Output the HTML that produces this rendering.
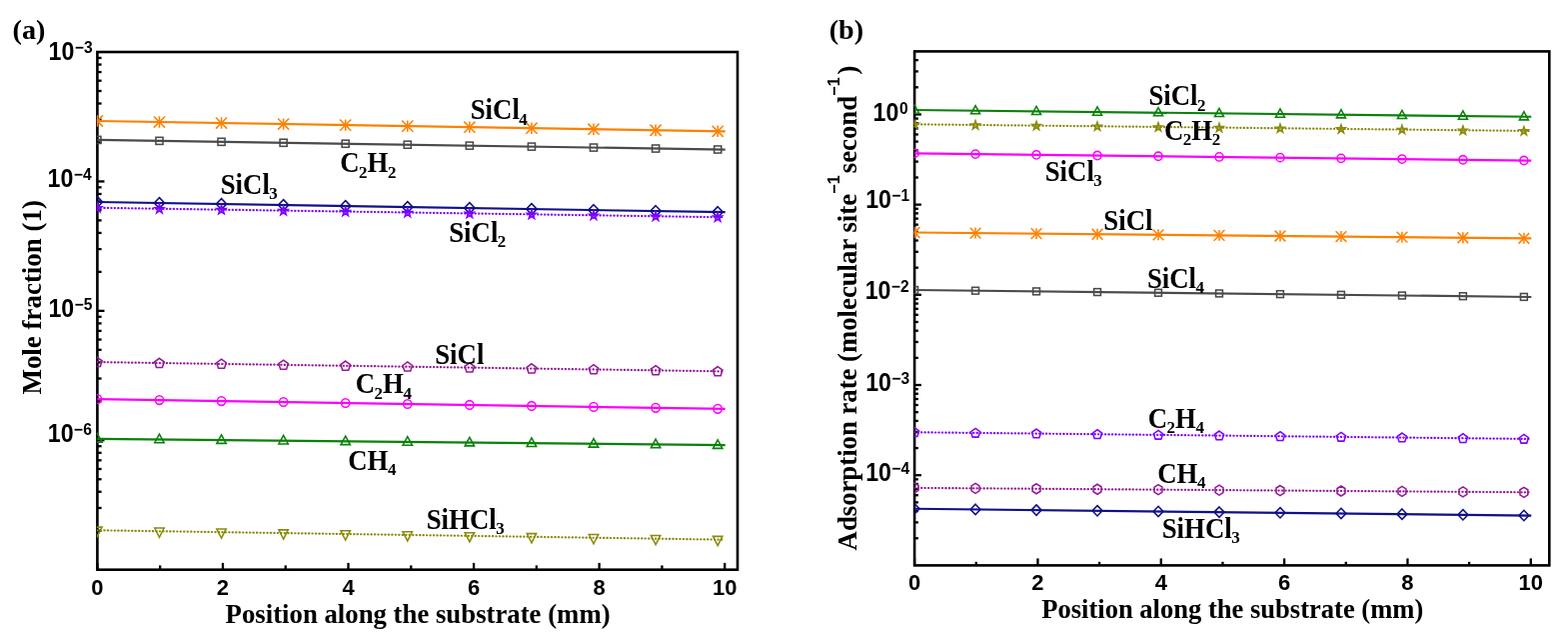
<!DOCTYPE html>
<html lang="en"><head><meta charset="utf-8"><title>Mole fraction and adsorption rate along the substrate</title>
<style>html,body{margin:0;padding:0;background:#fff;}body{width:1569px;height:640px;overflow:hidden;}svg{display:block;}text{fill:#000;}</style>
</head><body>
<svg width="1569" height="640" viewBox="0 0 1569 640">
<defs><filter id="soft" x="0" y="0" width="1569" height="640" filterUnits="userSpaceOnUse" color-interpolation-filters="sRGB"><feGaussianBlur stdDeviation="0.6"/></filter></defs>
<rect x="0" y="0" width="1569" height="640" fill="#ffffff"/>
<g filter="url(#soft)">
<g stroke="#000" stroke-width="2.3">
<line x1="97.4" y1="530.74" x2="101.6" y2="530.74"/>
<line x1="97.4" y1="507.95" x2="101.6" y2="507.95"/>
<line x1="97.4" y1="491.78" x2="101.6" y2="491.78"/>
<line x1="97.4" y1="479.24" x2="101.6" y2="479.24"/>
<line x1="97.4" y1="468.99" x2="101.6" y2="468.99"/>
<line x1="97.4" y1="460.32" x2="101.6" y2="460.32"/>
<line x1="97.4" y1="452.82" x2="101.6" y2="452.82"/>
<line x1="97.4" y1="446.2" x2="101.6" y2="446.2"/>
<line x1="97.4" y1="440.28" x2="104.5" y2="440.28"/>
<line x1="97.4" y1="401.31" x2="101.6" y2="401.31"/>
<line x1="97.4" y1="378.52" x2="101.6" y2="378.52"/>
<line x1="97.4" y1="362.35" x2="101.6" y2="362.35"/>
<line x1="97.4" y1="349.81" x2="101.6" y2="349.81"/>
<line x1="97.4" y1="339.56" x2="101.6" y2="339.56"/>
<line x1="97.4" y1="330.9" x2="101.6" y2="330.9"/>
<line x1="97.4" y1="323.39" x2="101.6" y2="323.39"/>
<line x1="97.4" y1="316.77" x2="101.6" y2="316.77"/>
<line x1="97.4" y1="310.85" x2="104.5" y2="310.85"/>
<line x1="97.4" y1="271.89" x2="101.6" y2="271.89"/>
<line x1="97.4" y1="249.1" x2="101.6" y2="249.1"/>
<line x1="97.4" y1="232.93" x2="101.6" y2="232.93"/>
<line x1="97.4" y1="220.39" x2="101.6" y2="220.39"/>
<line x1="97.4" y1="210.14" x2="101.6" y2="210.14"/>
<line x1="97.4" y1="201.47" x2="101.6" y2="201.47"/>
<line x1="97.4" y1="193.97" x2="101.6" y2="193.97"/>
<line x1="97.4" y1="187.35" x2="101.6" y2="187.35"/>
<line x1="97.4" y1="181.43" x2="104.5" y2="181.43"/>
<line x1="97.4" y1="142.46" x2="101.6" y2="142.46"/>
<line x1="97.4" y1="119.67" x2="101.6" y2="119.67"/>
<line x1="97.4" y1="103.5" x2="101.6" y2="103.5"/>
<line x1="97.4" y1="90.96" x2="101.6" y2="90.96"/>
<line x1="97.4" y1="80.71" x2="101.6" y2="80.71"/>
<line x1="97.4" y1="72.05" x2="101.6" y2="72.05"/>
<line x1="97.4" y1="64.54" x2="101.6" y2="64.54"/>
<line x1="97.4" y1="57.92" x2="101.6" y2="57.92"/>
<line x1="97.4" y1="569.7" x2="97.4" y2="562.9"/>
<line x1="160.18" y1="569.7" x2="160.18" y2="565.4"/>
<line x1="222.96" y1="569.7" x2="222.96" y2="562.9"/>
<line x1="285.74" y1="569.7" x2="285.74" y2="565.4"/>
<line x1="348.52" y1="569.7" x2="348.52" y2="562.9"/>
<line x1="411.3" y1="569.7" x2="411.3" y2="565.4"/>
<line x1="474.08" y1="569.7" x2="474.08" y2="562.9"/>
<line x1="536.86" y1="569.7" x2="536.86" y2="565.4"/>
<line x1="599.64" y1="569.7" x2="599.64" y2="562.9"/>
<line x1="662.42" y1="569.7" x2="662.42" y2="565.4"/>
<line x1="725.2" y1="569.7" x2="725.2" y2="562.9"/>
</g>
<rect x="97.4" y="52" width="640.6" height="517.7" fill="none" stroke="#000" stroke-width="2.6"/>
<clipPath id="clipa"><rect x="96.9" y="52" width="641.1" height="517.7"/></clipPath>
<g clip-path="url(#clipa)" fill="none">
<line x1="97.4" y1="121" x2="725.7" y2="131.41" stroke="#ff8000" stroke-width="2.2"/>
<line x1="97.4" y1="115.3" x2="97.4" y2="126.7" stroke="#ff8000" stroke-width="1.55"/><line x1="91.81" y1="115.41" x2="102.99" y2="126.59" stroke="#ff8000" stroke-width="1.55"/><line x1="91.81" y1="126.59" x2="102.99" y2="115.41" stroke="#ff8000" stroke-width="1.55"/>
<line x1="159.48" y1="116.33" x2="159.48" y2="127.73" stroke="#ff8000" stroke-width="1.55"/><line x1="153.89" y1="116.44" x2="165.06" y2="127.61" stroke="#ff8000" stroke-width="1.55"/><line x1="153.89" y1="127.61" x2="165.06" y2="116.44" stroke="#ff8000" stroke-width="1.55"/>
<line x1="221.55" y1="117.36" x2="221.55" y2="128.76" stroke="#ff8000" stroke-width="1.55"/><line x1="215.97" y1="117.47" x2="227.14" y2="128.64" stroke="#ff8000" stroke-width="1.55"/><line x1="215.97" y1="128.64" x2="227.14" y2="117.47" stroke="#ff8000" stroke-width="1.55"/>
<line x1="283.63" y1="118.39" x2="283.63" y2="129.79" stroke="#ff8000" stroke-width="1.55"/><line x1="278.04" y1="118.5" x2="289.22" y2="129.67" stroke="#ff8000" stroke-width="1.55"/><line x1="278.04" y1="129.67" x2="289.22" y2="118.5" stroke="#ff8000" stroke-width="1.55"/>
<line x1="345.71" y1="119.42" x2="345.71" y2="130.82" stroke="#ff8000" stroke-width="1.55"/><line x1="340.12" y1="119.53" x2="351.29" y2="130.7" stroke="#ff8000" stroke-width="1.55"/><line x1="340.12" y1="130.7" x2="351.29" y2="119.53" stroke="#ff8000" stroke-width="1.55"/>
<line x1="407.78" y1="120.44" x2="407.78" y2="131.84" stroke="#ff8000" stroke-width="1.55"/><line x1="402.2" y1="120.56" x2="413.37" y2="131.73" stroke="#ff8000" stroke-width="1.55"/><line x1="402.2" y1="131.73" x2="413.37" y2="120.56" stroke="#ff8000" stroke-width="1.55"/>
<line x1="469.86" y1="121.47" x2="469.86" y2="132.87" stroke="#ff8000" stroke-width="1.55"/><line x1="464.28" y1="121.59" x2="475.45" y2="132.76" stroke="#ff8000" stroke-width="1.55"/><line x1="464.28" y1="132.76" x2="475.45" y2="121.59" stroke="#ff8000" stroke-width="1.55"/>
<line x1="531.94" y1="122.5" x2="531.94" y2="133.9" stroke="#ff8000" stroke-width="1.55"/><line x1="526.35" y1="122.62" x2="537.52" y2="133.79" stroke="#ff8000" stroke-width="1.55"/><line x1="526.35" y1="133.79" x2="537.52" y2="122.62" stroke="#ff8000" stroke-width="1.55"/>
<line x1="594.01" y1="123.53" x2="594.01" y2="134.93" stroke="#ff8000" stroke-width="1.55"/><line x1="588.43" y1="123.64" x2="599.6" y2="134.82" stroke="#ff8000" stroke-width="1.55"/><line x1="588.43" y1="134.82" x2="599.6" y2="123.64" stroke="#ff8000" stroke-width="1.55"/>
<line x1="656.09" y1="124.56" x2="656.09" y2="135.96" stroke="#ff8000" stroke-width="1.55"/><line x1="650.51" y1="124.67" x2="661.68" y2="135.84" stroke="#ff8000" stroke-width="1.55"/><line x1="650.51" y1="135.84" x2="661.68" y2="124.67" stroke="#ff8000" stroke-width="1.55"/>
<line x1="718.17" y1="125.59" x2="718.17" y2="136.99" stroke="#ff8000" stroke-width="1.55"/><line x1="712.58" y1="125.7" x2="723.75" y2="136.87" stroke="#ff8000" stroke-width="1.55"/><line x1="712.58" y1="136.87" x2="723.75" y2="125.7" stroke="#ff8000" stroke-width="1.55"/>
<line x1="97.4" y1="139.9" x2="725.7" y2="149.6" stroke="#4a4a4a" stroke-width="2.2"/>
<rect x="93.85" y="136.35" width="7.1" height="7.1" stroke="#4a4a4a" stroke-width="1.55"/>
<rect x="155.93" y="137.31" width="7.1" height="7.1" stroke="#4a4a4a" stroke-width="1.55"/>
<rect x="218" y="138.27" width="7.1" height="7.1" stroke="#4a4a4a" stroke-width="1.55"/>
<rect x="280.08" y="139.23" width="7.1" height="7.1" stroke="#4a4a4a" stroke-width="1.55"/>
<rect x="342.16" y="140.19" width="7.1" height="7.1" stroke="#4a4a4a" stroke-width="1.55"/>
<rect x="404.23" y="141.14" width="7.1" height="7.1" stroke="#4a4a4a" stroke-width="1.55"/>
<rect x="466.31" y="142.1" width="7.1" height="7.1" stroke="#4a4a4a" stroke-width="1.55"/>
<rect x="528.39" y="143.06" width="7.1" height="7.1" stroke="#4a4a4a" stroke-width="1.55"/>
<rect x="590.46" y="144.02" width="7.1" height="7.1" stroke="#4a4a4a" stroke-width="1.55"/>
<rect x="652.54" y="144.98" width="7.1" height="7.1" stroke="#4a4a4a" stroke-width="1.55"/>
<rect x="714.62" y="145.94" width="7.1" height="7.1" stroke="#4a4a4a" stroke-width="1.55"/>
<line x1="97.4" y1="202" x2="725.7" y2="212.21" stroke="#10108a" stroke-width="2.2"/>
<polygon points="97.4,196.6 102.6,202 97.4,207.4 92.2,202" stroke="#10108a" stroke-width="1.55"/>
<polygon points="159.48,197.61 164.68,203.01 159.48,208.41 154.28,203.01" stroke="#10108a" stroke-width="1.55"/>
<polygon points="221.55,198.62 226.75,204.02 221.55,209.42 216.35,204.02" stroke="#10108a" stroke-width="1.55"/>
<polygon points="283.63,199.63 288.83,205.03 283.63,210.43 278.43,205.03" stroke="#10108a" stroke-width="1.55"/>
<polygon points="345.71,200.64 350.91,206.04 345.71,211.44 340.51,206.04" stroke="#10108a" stroke-width="1.55"/>
<polygon points="407.78,201.64 412.98,207.04 407.78,212.44 402.58,207.04" stroke="#10108a" stroke-width="1.55"/>
<polygon points="469.86,202.65 475.06,208.05 469.86,213.45 464.66,208.05" stroke="#10108a" stroke-width="1.55"/>
<polygon points="531.94,203.66 537.14,209.06 531.94,214.46 526.74,209.06" stroke="#10108a" stroke-width="1.55"/>
<polygon points="594.01,204.67 599.21,210.07 594.01,215.47 588.81,210.07" stroke="#10108a" stroke-width="1.55"/>
<polygon points="656.09,205.68 661.29,211.08 656.09,216.48 650.89,211.08" stroke="#10108a" stroke-width="1.55"/>
<polygon points="718.17,206.69 723.37,212.09 718.17,217.49 712.97,212.09" stroke="#10108a" stroke-width="1.55"/>
<line x1="97.4" y1="207.8" x2="723.42" y2="217.27" stroke="#8000ff" stroke-width="2.2" stroke-dasharray="0.3 3.17" stroke-linecap="round"/>
<polygon points="97.4,203.5 98.48,206.61 101.77,206.68 99.15,208.67 100.1,211.82 97.4,209.94 94.7,211.82 95.65,208.67 93.03,206.68 96.32,206.61" stroke="#8000ff" stroke-width="1.55" fill="#8000ff" fill-opacity="0.6"/>
<polygon points="159.48,204.44 160.56,207.55 163.85,207.62 161.23,209.61 162.18,212.76 159.48,210.88 156.77,212.76 157.73,209.61 155.1,207.62 158.4,207.55" stroke="#8000ff" stroke-width="1.55" fill="#8000ff" fill-opacity="0.6"/>
<polygon points="221.55,205.38 222.64,208.49 225.93,208.56 223.3,210.55 224.26,213.7 221.55,211.82 218.85,213.7 219.8,210.55 217.18,208.56 220.47,208.49" stroke="#8000ff" stroke-width="1.55" fill="#8000ff" fill-opacity="0.6"/>
<polygon points="283.63,206.32 284.71,209.43 288.01,209.5 285.38,211.49 286.33,214.64 283.63,212.76 280.93,214.64 281.88,211.49 279.26,209.5 282.55,209.43" stroke="#8000ff" stroke-width="1.55" fill="#8000ff" fill-opacity="0.6"/>
<polygon points="345.71,207.26 346.79,210.37 350.08,210.43 347.46,212.42 348.41,215.58 345.71,213.7 343,215.58 343.96,212.42 341.33,210.43 344.63,210.37" stroke="#8000ff" stroke-width="1.55" fill="#8000ff" fill-opacity="0.6"/>
<polygon points="407.78,208.19 408.87,211.31 412.16,211.37 409.53,213.36 410.49,216.52 407.78,214.63 405.08,216.52 406.03,213.36 403.41,211.37 406.7,211.31" stroke="#8000ff" stroke-width="1.55" fill="#8000ff" fill-opacity="0.6"/>
<polygon points="469.86,209.13 470.94,212.24 474.24,212.31 471.61,214.3 472.56,217.45 469.86,215.57 467.16,217.45 468.11,214.3 465.49,212.31 468.78,212.24" stroke="#8000ff" stroke-width="1.55" fill="#8000ff" fill-opacity="0.6"/>
<polygon points="531.94,210.07 533.02,213.18 536.31,213.25 533.69,215.24 534.64,218.39 531.94,216.51 529.23,218.39 530.19,215.24 527.56,213.25 530.86,213.18" stroke="#8000ff" stroke-width="1.55" fill="#8000ff" fill-opacity="0.6"/>
<polygon points="594.01,211.01 595.1,214.12 598.39,214.19 595.76,216.18 596.72,219.33 594.01,217.45 591.31,219.33 592.26,216.18 589.64,214.19 592.93,214.12" stroke="#8000ff" stroke-width="1.55" fill="#8000ff" fill-opacity="0.6"/>
<polygon points="656.09,211.95 657.17,215.06 660.47,215.13 657.84,217.12 658.8,220.27 656.09,218.39 653.39,220.27 654.34,217.12 651.72,215.13 655.01,215.06" stroke="#8000ff" stroke-width="1.55" fill="#8000ff" fill-opacity="0.6"/>
<polygon points="718.17,212.89 719.25,216 722.54,216.07 719.92,218.06 720.87,221.21 718.17,219.33 715.46,221.21 716.42,218.06 713.79,216.07 717.09,216" stroke="#8000ff" stroke-width="1.55" fill="#8000ff" fill-opacity="0.6"/>
<line x1="97.4" y1="362.1" x2="723.42" y2="371.37" stroke="#951a99" stroke-width="2.2" stroke-dasharray="0.3 3.17" stroke-linecap="round"/>
<polygon points="97.4,357.35 102.2,360.84 100.37,366.49 94.43,366.49 92.6,360.84" stroke="#951a99" stroke-width="1.55"/>
<polygon points="159.48,358.27 164.28,361.76 162.45,367.4 156.51,367.4 154.67,361.76" stroke="#951a99" stroke-width="1.55"/>
<polygon points="221.55,359.19 226.36,362.68 224.52,368.32 218.59,368.32 216.75,362.68" stroke="#951a99" stroke-width="1.55"/>
<polygon points="283.63,360.11 288.43,363.6 286.6,369.24 280.66,369.24 278.83,363.6" stroke="#951a99" stroke-width="1.55"/>
<polygon points="345.71,361.03 350.51,364.52 348.68,370.16 342.74,370.16 340.9,364.52" stroke="#951a99" stroke-width="1.55"/>
<polygon points="407.78,361.94 412.59,365.43 410.75,371.08 404.82,371.08 402.98,365.43" stroke="#951a99" stroke-width="1.55"/>
<polygon points="469.86,362.86 474.66,366.35 472.83,372 466.89,372 465.06,366.35" stroke="#951a99" stroke-width="1.55"/>
<polygon points="531.94,363.78 536.74,367.27 534.91,372.92 528.97,372.92 527.14,367.27" stroke="#951a99" stroke-width="1.55"/>
<polygon points="594.01,364.7 598.82,368.19 596.98,373.84 591.05,373.84 589.21,368.19" stroke="#951a99" stroke-width="1.55"/>
<polygon points="656.09,365.62 660.89,369.11 659.06,374.76 653.12,374.76 651.29,369.11" stroke="#951a99" stroke-width="1.55"/>
<polygon points="718.17,366.54 722.97,370.03 721.14,375.67 715.2,375.67 713.37,370.03" stroke="#951a99" stroke-width="1.55"/>
<line x1="97.4" y1="399.1" x2="725.7" y2="408.96" stroke="#ff00ff" stroke-width="2.2"/>
<ellipse cx="97.4" cy="399.1" rx="4.15" ry="4.32" stroke="#ff00ff" stroke-width="1.55"/>
<ellipse cx="159.48" cy="400.07" rx="4.15" ry="4.32" stroke="#ff00ff" stroke-width="1.55"/>
<ellipse cx="221.55" cy="401.05" rx="4.15" ry="4.32" stroke="#ff00ff" stroke-width="1.55"/>
<ellipse cx="283.63" cy="402.02" rx="4.15" ry="4.32" stroke="#ff00ff" stroke-width="1.55"/>
<ellipse cx="345.71" cy="403" rx="4.15" ry="4.32" stroke="#ff00ff" stroke-width="1.55"/>
<ellipse cx="407.78" cy="403.97" rx="4.15" ry="4.32" stroke="#ff00ff" stroke-width="1.55"/>
<ellipse cx="469.86" cy="404.94" rx="4.15" ry="4.32" stroke="#ff00ff" stroke-width="1.55"/>
<ellipse cx="531.94" cy="405.92" rx="4.15" ry="4.32" stroke="#ff00ff" stroke-width="1.55"/>
<ellipse cx="594.01" cy="406.89" rx="4.15" ry="4.32" stroke="#ff00ff" stroke-width="1.55"/>
<ellipse cx="656.09" cy="407.86" rx="4.15" ry="4.32" stroke="#ff00ff" stroke-width="1.55"/>
<ellipse cx="718.17" cy="408.84" rx="4.15" ry="4.32" stroke="#ff00ff" stroke-width="1.55"/>
<line x1="97.4" y1="438.8" x2="725.7" y2="445.17" stroke="#0a820a" stroke-width="2.2"/>
<polygon points="97.4,433.5 102.1,442.1 92.7,442.1" stroke="#0a820a" stroke-width="1.55"/>
<polygon points="159.48,434.13 164.18,442.73 154.78,442.73" stroke="#0a820a" stroke-width="1.55"/>
<polygon points="221.55,434.76 226.25,443.36 216.85,443.36" stroke="#0a820a" stroke-width="1.55"/>
<polygon points="283.63,435.39 288.33,443.99 278.93,443.99" stroke="#0a820a" stroke-width="1.55"/>
<polygon points="345.71,436.02 350.41,444.62 341.01,444.62" stroke="#0a820a" stroke-width="1.55"/>
<polygon points="407.78,436.65 412.48,445.25 403.08,445.25" stroke="#0a820a" stroke-width="1.55"/>
<polygon points="469.86,437.28 474.56,445.88 465.16,445.88" stroke="#0a820a" stroke-width="1.55"/>
<polygon points="531.94,437.9 536.64,446.5 527.24,446.5" stroke="#0a820a" stroke-width="1.55"/>
<polygon points="594.01,438.53 598.71,447.13 589.31,447.13" stroke="#0a820a" stroke-width="1.55"/>
<polygon points="656.09,439.16 660.79,447.76 651.39,447.76" stroke="#0a820a" stroke-width="1.55"/>
<polygon points="718.17,439.79 722.87,448.39 713.47,448.39" stroke="#0a820a" stroke-width="1.55"/>
<line x1="97.4" y1="530.3" x2="723.42" y2="539.67" stroke="#8a8a0a" stroke-width="2.2" stroke-dasharray="0.3 3.17" stroke-linecap="round"/>
<polygon points="97.4,536.3 102.1,527.1 92.7,527.1" stroke="#8a8a0a" stroke-width="1.55"/>
<polygon points="159.48,537.23 164.18,528.03 154.78,528.03" stroke="#8a8a0a" stroke-width="1.55"/>
<polygon points="221.55,538.16 226.25,528.96 216.85,528.96" stroke="#8a8a0a" stroke-width="1.55"/>
<polygon points="283.63,539.09 288.33,529.89 278.93,529.89" stroke="#8a8a0a" stroke-width="1.55"/>
<polygon points="345.71,540.02 350.41,530.82 341.01,530.82" stroke="#8a8a0a" stroke-width="1.55"/>
<polygon points="407.78,540.94 412.48,531.74 403.08,531.74" stroke="#8a8a0a" stroke-width="1.55"/>
<polygon points="469.86,541.87 474.56,532.67 465.16,532.67" stroke="#8a8a0a" stroke-width="1.55"/>
<polygon points="531.94,542.8 536.64,533.6 527.24,533.6" stroke="#8a8a0a" stroke-width="1.55"/>
<polygon points="594.01,543.73 598.71,534.53 589.31,534.53" stroke="#8a8a0a" stroke-width="1.55"/>
<polygon points="656.09,544.66 660.79,535.46 651.39,535.46" stroke="#8a8a0a" stroke-width="1.55"/>
<polygon points="718.17,545.59 722.87,536.39 713.47,536.39" stroke="#8a8a0a" stroke-width="1.55"/>
</g>
<text transform="translate(97.4 594.6) scale(1 1.03)" font-family="'Liberation Sans', sans-serif" font-weight="bold" font-size="22" text-anchor="middle">0</text>
<text transform="translate(222.96 594.6) scale(1 1.03)" font-family="'Liberation Sans', sans-serif" font-weight="bold" font-size="22" text-anchor="middle">2</text>
<text transform="translate(348.52 594.6) scale(1 1.03)" font-family="'Liberation Sans', sans-serif" font-weight="bold" font-size="22" text-anchor="middle">4</text>
<text transform="translate(474.08 594.6) scale(1 1.03)" font-family="'Liberation Sans', sans-serif" font-weight="bold" font-size="22" text-anchor="middle">6</text>
<text transform="translate(599.64 594.6) scale(1 1.03)" font-family="'Liberation Sans', sans-serif" font-weight="bold" font-size="22" text-anchor="middle">8</text>
<text transform="translate(725.2 594.6) scale(1 1.03)" font-family="'Liberation Sans', sans-serif" font-weight="bold" font-size="22" text-anchor="middle">10</text>
<text transform="translate(12.5 39)" font-family="'Liberation Serif', serif" font-weight="bold" font-size="28.2">(a)</text>
<text transform="translate(48.6 59.6) scale(1 1.09)" font-family="'Liberation Sans', sans-serif" font-weight="bold" font-size="23.2">10</text><text transform="translate(74.91 52.7) scale(1 1.06)" font-family="'Liberation Sans', sans-serif" font-weight="bold" font-size="15.6">−3</text>
<text transform="translate(47.6 186.8) scale(1 1.09)" font-family="'Liberation Sans', sans-serif" font-weight="bold" font-size="23.2">10</text><text transform="translate(73.91 179.9) scale(1 1.06)" font-family="'Liberation Sans', sans-serif" font-weight="bold" font-size="15.6">−4</text>
<text transform="translate(48.4 316.8) scale(1 1.09)" font-family="'Liberation Sans', sans-serif" font-weight="bold" font-size="23.2">10</text><text transform="translate(74.71 309.9) scale(1 1.06)" font-family="'Liberation Sans', sans-serif" font-weight="bold" font-size="15.6">−5</text>
<text transform="translate(47.8 441.5) scale(1 1.09)" font-family="'Liberation Sans', sans-serif" font-weight="bold" font-size="23.2">10</text><text transform="translate(74.11 434.6) scale(1 1.06)" font-family="'Liberation Sans', sans-serif" font-weight="bold" font-size="15.6">−6</text>
<text transform="translate(40.6 297.3) rotate(-90)" font-family="'Liberation Serif', serif" font-weight="bold" font-size="26.95" text-anchor="middle">Mole fraction (1)</text>
<text transform="translate(225.6 622.5) scale(1 1.01)" font-family="'Liberation Serif', serif" font-weight="bold" font-size="26.77">Position along the substrate (mm)</text>
<text transform="translate(470.7 119.2) scale(1 1.06)" font-family="'Liberation Serif', serif" font-weight="bold" font-size="26.8">SiCl</text><text transform="translate(519.35 124.6) scale(1 1.04)" font-family="'Liberation Serif', serif" font-weight="bold" font-size="17">4</text>
<text transform="translate(340.2 172.2) scale(1 1.06)" font-family="'Liberation Serif', serif" font-weight="bold" font-size="26.8">C</text><text transform="translate(359.05 177.6) scale(1 1.04)" font-family="'Liberation Serif', serif" font-weight="bold" font-size="17">2</text><text transform="translate(367.55 172.2) scale(1 1.06)" font-family="'Liberation Serif', serif" font-weight="bold" font-size="26.8">H</text><text transform="translate(387.9 177.6) scale(1 1.04)" font-family="'Liberation Serif', serif" font-weight="bold" font-size="17">2</text>
<text transform="translate(220.7 193.6) scale(1 1.06)" font-family="'Liberation Serif', serif" font-weight="bold" font-size="26.8">SiCl</text><text transform="translate(269.35 199) scale(1 1.04)" font-family="'Liberation Serif', serif" font-weight="bold" font-size="17">3</text>
<text transform="translate(449.2 241.5) scale(1 1.06)" font-family="'Liberation Serif', serif" font-weight="bold" font-size="26.8">SiCl</text><text transform="translate(497.85 246.9) scale(1 1.04)" font-family="'Liberation Serif', serif" font-weight="bold" font-size="17">2</text>
<text transform="translate(435.2 364.1) scale(1 1.06)" font-family="'Liberation Serif', serif" font-weight="bold" font-size="26.8">SiCl</text>
<text transform="translate(355.7 393.35) scale(1 1.06)" font-family="'Liberation Serif', serif" font-weight="bold" font-size="26.8">C</text><text transform="translate(374.55 398.75) scale(1 1.04)" font-family="'Liberation Serif', serif" font-weight="bold" font-size="17">2</text><text transform="translate(383.05 393.35) scale(1 1.06)" font-family="'Liberation Serif', serif" font-weight="bold" font-size="26.8">H</text><text transform="translate(403.4 398.75) scale(1 1.04)" font-family="'Liberation Serif', serif" font-weight="bold" font-size="17">4</text>
<text transform="translate(348.2 469.6) scale(1 1.06)" font-family="'Liberation Serif', serif" font-weight="bold" font-size="26.8">CH</text><text transform="translate(387.9 475) scale(1 1.04)" font-family="'Liberation Serif', serif" font-weight="bold" font-size="17">4</text>
<text transform="translate(426.7 528.6) scale(1 1.06)" font-family="'Liberation Serif', serif" font-weight="bold" font-size="26.8">SiHCl</text><text transform="translate(496.2 534) scale(1 1.04)" font-family="'Liberation Serif', serif" font-weight="bold" font-size="17">3</text>
<g stroke="#000" stroke-width="2.3">
<line x1="915.1" y1="538.25" x2="918.9" y2="538.25"/>
<line x1="915.1" y1="522.37" x2="918.9" y2="522.37"/>
<line x1="915.1" y1="511.1" x2="918.9" y2="511.1"/>
<line x1="915.1" y1="502.36" x2="918.9" y2="502.36"/>
<line x1="915.1" y1="495.22" x2="918.9" y2="495.22"/>
<line x1="915.1" y1="489.18" x2="918.9" y2="489.18"/>
<line x1="915.1" y1="483.95" x2="918.9" y2="483.95"/>
<line x1="915.1" y1="479.34" x2="918.9" y2="479.34"/>
<line x1="915.1" y1="475.21" x2="921.9" y2="475.21"/>
<line x1="915.1" y1="448.06" x2="918.9" y2="448.06"/>
<line x1="915.1" y1="432.18" x2="918.9" y2="432.18"/>
<line x1="915.1" y1="420.91" x2="918.9" y2="420.91"/>
<line x1="915.1" y1="412.17" x2="918.9" y2="412.17"/>
<line x1="915.1" y1="405.03" x2="918.9" y2="405.03"/>
<line x1="915.1" y1="398.99" x2="918.9" y2="398.99"/>
<line x1="915.1" y1="393.76" x2="918.9" y2="393.76"/>
<line x1="915.1" y1="389.14" x2="918.9" y2="389.14"/>
<line x1="915.1" y1="385.02" x2="921.9" y2="385.02"/>
<line x1="915.1" y1="357.87" x2="918.9" y2="357.87"/>
<line x1="915.1" y1="341.98" x2="918.9" y2="341.98"/>
<line x1="915.1" y1="330.72" x2="918.9" y2="330.72"/>
<line x1="915.1" y1="321.98" x2="918.9" y2="321.98"/>
<line x1="915.1" y1="314.83" x2="918.9" y2="314.83"/>
<line x1="915.1" y1="308.8" x2="918.9" y2="308.8"/>
<line x1="915.1" y1="303.57" x2="918.9" y2="303.57"/>
<line x1="915.1" y1="298.95" x2="918.9" y2="298.95"/>
<line x1="915.1" y1="294.82" x2="921.9" y2="294.82"/>
<line x1="915.1" y1="267.67" x2="918.9" y2="267.67"/>
<line x1="915.1" y1="251.79" x2="918.9" y2="251.79"/>
<line x1="915.1" y1="240.52" x2="918.9" y2="240.52"/>
<line x1="915.1" y1="231.78" x2="918.9" y2="231.78"/>
<line x1="915.1" y1="224.64" x2="918.9" y2="224.64"/>
<line x1="915.1" y1="218.6" x2="918.9" y2="218.6"/>
<line x1="915.1" y1="213.37" x2="918.9" y2="213.37"/>
<line x1="915.1" y1="208.76" x2="918.9" y2="208.76"/>
<line x1="915.1" y1="204.63" x2="921.9" y2="204.63"/>
<line x1="915.1" y1="177.48" x2="918.9" y2="177.48"/>
<line x1="915.1" y1="161.6" x2="918.9" y2="161.6"/>
<line x1="915.1" y1="150.33" x2="918.9" y2="150.33"/>
<line x1="915.1" y1="141.59" x2="918.9" y2="141.59"/>
<line x1="915.1" y1="134.45" x2="918.9" y2="134.45"/>
<line x1="915.1" y1="128.41" x2="918.9" y2="128.41"/>
<line x1="915.1" y1="123.18" x2="918.9" y2="123.18"/>
<line x1="915.1" y1="118.57" x2="918.9" y2="118.57"/>
<line x1="915.1" y1="114.44" x2="921.9" y2="114.44"/>
<line x1="915.1" y1="87.29" x2="918.9" y2="87.29"/>
<line x1="915.1" y1="71.41" x2="918.9" y2="71.41"/>
<line x1="915.1" y1="60.14" x2="918.9" y2="60.14"/>
<line x1="915.1" y1="565.4" x2="915.1" y2="558.4"/>
<line x1="976.77" y1="565.4" x2="976.77" y2="561.8"/>
<line x1="1038.44" y1="565.4" x2="1038.44" y2="558.4"/>
<line x1="1100.11" y1="565.4" x2="1100.11" y2="561.8"/>
<line x1="1161.78" y1="565.4" x2="1161.78" y2="558.4"/>
<line x1="1223.45" y1="565.4" x2="1223.45" y2="561.8"/>
<line x1="1285.12" y1="565.4" x2="1285.12" y2="558.4"/>
<line x1="1346.79" y1="565.4" x2="1346.79" y2="561.8"/>
<line x1="1408.46" y1="565.4" x2="1408.46" y2="558.4"/>
<line x1="1470.13" y1="565.4" x2="1470.13" y2="561.8"/>
<line x1="1531.8" y1="565.4" x2="1531.8" y2="558.4"/>
</g>
<rect x="915.1" y="51.4" width="635.2" height="514" fill="none" stroke="#000" stroke-width="2.6"/>
<clipPath id="clipb"><rect x="914.6" y="51.4" width="635.7" height="514"/></clipPath>
<g clip-path="url(#clipb)" fill="none">
<line x1="915.1" y1="110" x2="1532.3" y2="116.77" stroke="#0a820a" stroke-width="2.2"/>
<polygon points="915.1,104.91 919.61,113.17 910.59,113.17" stroke="#0a820a" stroke-width="1.55"/>
<polygon points="976.08,105.58 980.59,113.84 971.57,113.84" stroke="#0a820a" stroke-width="1.55"/>
<polygon points="1037.06,106.25 1041.57,114.51 1032.55,114.51" stroke="#0a820a" stroke-width="1.55"/>
<polygon points="1098.04,106.92 1102.55,115.18 1093.53,115.18" stroke="#0a820a" stroke-width="1.55"/>
<polygon points="1159.02,107.59 1163.53,115.84 1154.51,115.84" stroke="#0a820a" stroke-width="1.55"/>
<polygon points="1220,108.26 1224.51,116.51 1215.48,116.51" stroke="#0a820a" stroke-width="1.55"/>
<polygon points="1280.98,108.93 1285.49,117.18 1276.46,117.18" stroke="#0a820a" stroke-width="1.55"/>
<polygon points="1341.96,109.6 1346.47,117.85 1337.44,117.85" stroke="#0a820a" stroke-width="1.55"/>
<polygon points="1402.93,110.27 1407.45,118.52 1398.42,118.52" stroke="#0a820a" stroke-width="1.55"/>
<polygon points="1463.91,110.93 1468.43,119.19 1459.4,119.19" stroke="#0a820a" stroke-width="1.55"/>
<polygon points="1524.89,111.6 1529.4,119.86 1520.38,119.86" stroke="#0a820a" stroke-width="1.55"/>
<line x1="915.1" y1="124.3" x2="1530.13" y2="130.95" stroke="#8a8a0a" stroke-width="2.2" stroke-dasharray="0.3 3.17" stroke-linecap="round"/>
<polygon points="915.1,120.18 916.14,123.17 919.3,123.24 916.78,125.15 917.7,128.17 915.1,126.37 912.5,128.17 913.42,125.15 910.9,123.24 914.06,123.17" stroke="#8a8a0a" stroke-width="1.55" fill="#8a8a0a" fill-opacity="0.6"/>
<polygon points="976.08,120.84 977.12,123.83 980.28,123.89 977.76,125.81 978.67,128.83 976.08,127.03 973.48,128.83 974.4,125.81 971.88,123.89 975.04,123.83" stroke="#8a8a0a" stroke-width="1.55" fill="#8a8a0a" fill-opacity="0.6"/>
<polygon points="1037.06,121.5 1038.1,124.49 1041.26,124.55 1038.74,126.46 1039.65,129.49 1037.06,127.68 1034.46,129.49 1035.38,126.46 1032.86,124.55 1036.02,124.49" stroke="#8a8a0a" stroke-width="1.55" fill="#8a8a0a" fill-opacity="0.6"/>
<polygon points="1098.04,122.16 1099.08,125.15 1102.24,125.21 1099.72,127.12 1100.63,130.15 1098.04,128.34 1095.44,130.15 1096.36,127.12 1093.84,125.21 1097,125.15" stroke="#8a8a0a" stroke-width="1.55" fill="#8a8a0a" fill-opacity="0.6"/>
<polygon points="1159.02,122.82 1160.06,125.81 1163.22,125.87 1160.7,127.78 1161.61,130.81 1159.02,129 1156.42,130.81 1157.34,127.78 1154.82,125.87 1157.98,125.81" stroke="#8a8a0a" stroke-width="1.55" fill="#8a8a0a" fill-opacity="0.6"/>
<polygon points="1220,123.48 1221.03,126.47 1224.2,126.53 1221.68,128.44 1222.59,131.47 1220,129.66 1217.4,131.47 1218.32,128.44 1215.8,126.53 1218.96,126.47" stroke="#8a8a0a" stroke-width="1.55" fill="#8a8a0a" fill-opacity="0.6"/>
<polygon points="1280.98,124.14 1282.01,127.13 1285.18,127.19 1282.66,129.1 1283.57,132.13 1280.98,130.32 1278.38,132.13 1279.3,129.1 1276.78,127.19 1279.94,127.13" stroke="#8a8a0a" stroke-width="1.55" fill="#8a8a0a" fill-opacity="0.6"/>
<polygon points="1341.96,124.8 1342.99,127.79 1346.15,127.85 1343.64,129.76 1344.55,132.79 1341.96,130.98 1339.36,132.79 1340.28,129.76 1337.76,127.85 1340.92,127.79" stroke="#8a8a0a" stroke-width="1.55" fill="#8a8a0a" fill-opacity="0.6"/>
<polygon points="1402.93,125.46 1403.97,128.44 1407.13,128.51 1404.61,130.42 1405.53,133.45 1402.93,131.64 1400.34,133.45 1401.25,130.42 1398.73,128.51 1401.9,128.44" stroke="#8a8a0a" stroke-width="1.55" fill="#8a8a0a" fill-opacity="0.6"/>
<polygon points="1463.91,126.12 1464.95,129.1 1468.11,129.17 1465.59,131.08 1466.51,134.11 1463.91,132.3 1461.32,134.11 1462.23,131.08 1459.71,129.17 1462.88,129.1" stroke="#8a8a0a" stroke-width="1.55" fill="#8a8a0a" fill-opacity="0.6"/>
<polygon points="1524.89,126.78 1525.93,129.76 1529.09,129.83 1526.57,131.74 1527.49,134.76 1524.89,132.96 1522.3,134.76 1523.21,131.74 1520.69,129.83 1523.85,129.76" stroke="#8a8a0a" stroke-width="1.55" fill="#8a8a0a" fill-opacity="0.6"/>
<line x1="915.1" y1="153.4" x2="1532.3" y2="160.58" stroke="#ff00ff" stroke-width="2.2"/>
<ellipse cx="915.1" cy="153.4" rx="3.98" ry="4.14" stroke="#ff00ff" stroke-width="1.55"/>
<ellipse cx="976.08" cy="154.11" rx="3.98" ry="4.14" stroke="#ff00ff" stroke-width="1.55"/>
<ellipse cx="1037.06" cy="154.82" rx="3.98" ry="4.14" stroke="#ff00ff" stroke-width="1.55"/>
<ellipse cx="1098.04" cy="155.53" rx="3.98" ry="4.14" stroke="#ff00ff" stroke-width="1.55"/>
<ellipse cx="1159.02" cy="156.24" rx="3.98" ry="4.14" stroke="#ff00ff" stroke-width="1.55"/>
<ellipse cx="1220" cy="156.95" rx="3.98" ry="4.14" stroke="#ff00ff" stroke-width="1.55"/>
<ellipse cx="1280.98" cy="157.65" rx="3.98" ry="4.14" stroke="#ff00ff" stroke-width="1.55"/>
<ellipse cx="1341.96" cy="158.36" rx="3.98" ry="4.14" stroke="#ff00ff" stroke-width="1.55"/>
<ellipse cx="1402.93" cy="159.07" rx="3.98" ry="4.14" stroke="#ff00ff" stroke-width="1.55"/>
<ellipse cx="1463.91" cy="159.78" rx="3.98" ry="4.14" stroke="#ff00ff" stroke-width="1.55"/>
<ellipse cx="1524.89" cy="160.49" rx="3.98" ry="4.14" stroke="#ff00ff" stroke-width="1.55"/>
<line x1="915.1" y1="232.5" x2="1532.3" y2="238.36" stroke="#ff8000" stroke-width="2.2"/>
<line x1="915.1" y1="227.03" x2="915.1" y2="237.97" stroke="#ff8000" stroke-width="1.55"/><line x1="909.74" y1="227.14" x2="920.46" y2="237.86" stroke="#ff8000" stroke-width="1.55"/><line x1="909.74" y1="237.86" x2="920.46" y2="227.14" stroke="#ff8000" stroke-width="1.55"/>
<line x1="976.08" y1="227.61" x2="976.08" y2="238.55" stroke="#ff8000" stroke-width="1.55"/><line x1="970.72" y1="227.72" x2="981.44" y2="238.44" stroke="#ff8000" stroke-width="1.55"/><line x1="970.72" y1="238.44" x2="981.44" y2="227.72" stroke="#ff8000" stroke-width="1.55"/>
<line x1="1037.06" y1="228.19" x2="1037.06" y2="239.13" stroke="#ff8000" stroke-width="1.55"/><line x1="1031.7" y1="228.3" x2="1042.42" y2="239.02" stroke="#ff8000" stroke-width="1.55"/><line x1="1031.7" y1="239.02" x2="1042.42" y2="228.3" stroke="#ff8000" stroke-width="1.55"/>
<line x1="1098.04" y1="228.77" x2="1098.04" y2="239.71" stroke="#ff8000" stroke-width="1.55"/><line x1="1092.68" y1="228.88" x2="1103.4" y2="239.6" stroke="#ff8000" stroke-width="1.55"/><line x1="1092.68" y1="239.6" x2="1103.4" y2="228.88" stroke="#ff8000" stroke-width="1.55"/>
<line x1="1159.02" y1="229.35" x2="1159.02" y2="240.29" stroke="#ff8000" stroke-width="1.55"/><line x1="1153.65" y1="229.45" x2="1164.38" y2="240.18" stroke="#ff8000" stroke-width="1.55"/><line x1="1153.65" y1="240.18" x2="1164.38" y2="229.45" stroke="#ff8000" stroke-width="1.55"/>
<line x1="1220" y1="229.92" x2="1220" y2="240.87" stroke="#ff8000" stroke-width="1.55"/><line x1="1214.63" y1="230.03" x2="1225.36" y2="240.76" stroke="#ff8000" stroke-width="1.55"/><line x1="1214.63" y1="240.76" x2="1225.36" y2="230.03" stroke="#ff8000" stroke-width="1.55"/>
<line x1="1280.98" y1="230.5" x2="1280.98" y2="241.45" stroke="#ff8000" stroke-width="1.55"/><line x1="1275.61" y1="230.61" x2="1286.34" y2="241.34" stroke="#ff8000" stroke-width="1.55"/><line x1="1275.61" y1="241.34" x2="1286.34" y2="230.61" stroke="#ff8000" stroke-width="1.55"/>
<line x1="1341.96" y1="231.08" x2="1341.96" y2="242.03" stroke="#ff8000" stroke-width="1.55"/><line x1="1336.59" y1="231.19" x2="1347.32" y2="241.92" stroke="#ff8000" stroke-width="1.55"/><line x1="1336.59" y1="241.92" x2="1347.32" y2="231.19" stroke="#ff8000" stroke-width="1.55"/>
<line x1="1402.93" y1="231.66" x2="1402.93" y2="242.61" stroke="#ff8000" stroke-width="1.55"/><line x1="1397.57" y1="231.77" x2="1408.3" y2="242.5" stroke="#ff8000" stroke-width="1.55"/><line x1="1397.57" y1="242.5" x2="1408.3" y2="231.77" stroke="#ff8000" stroke-width="1.55"/>
<line x1="1463.91" y1="232.24" x2="1463.91" y2="243.19" stroke="#ff8000" stroke-width="1.55"/><line x1="1458.55" y1="232.35" x2="1469.28" y2="243.08" stroke="#ff8000" stroke-width="1.55"/><line x1="1458.55" y1="243.08" x2="1469.28" y2="232.35" stroke="#ff8000" stroke-width="1.55"/>
<line x1="1524.89" y1="232.82" x2="1524.89" y2="243.76" stroke="#ff8000" stroke-width="1.55"/><line x1="1519.53" y1="232.93" x2="1530.26" y2="243.66" stroke="#ff8000" stroke-width="1.55"/><line x1="1519.53" y1="243.66" x2="1530.26" y2="232.93" stroke="#ff8000" stroke-width="1.55"/>
<line x1="915.1" y1="290" x2="1532.3" y2="296.98" stroke="#4a4a4a" stroke-width="2.2"/>
<rect x="911.69" y="286.59" width="6.82" height="6.82" stroke="#4a4a4a" stroke-width="1.55"/>
<rect x="972.67" y="287.28" width="6.82" height="6.82" stroke="#4a4a4a" stroke-width="1.55"/>
<rect x="1033.65" y="287.97" width="6.82" height="6.82" stroke="#4a4a4a" stroke-width="1.55"/>
<rect x="1094.63" y="288.66" width="6.82" height="6.82" stroke="#4a4a4a" stroke-width="1.55"/>
<rect x="1155.61" y="289.35" width="6.82" height="6.82" stroke="#4a4a4a" stroke-width="1.55"/>
<rect x="1216.59" y="290.04" width="6.82" height="6.82" stroke="#4a4a4a" stroke-width="1.55"/>
<rect x="1277.57" y="290.73" width="6.82" height="6.82" stroke="#4a4a4a" stroke-width="1.55"/>
<rect x="1338.55" y="291.42" width="6.82" height="6.82" stroke="#4a4a4a" stroke-width="1.55"/>
<rect x="1399.53" y="292.11" width="6.82" height="6.82" stroke="#4a4a4a" stroke-width="1.55"/>
<rect x="1460.51" y="292.79" width="6.82" height="6.82" stroke="#4a4a4a" stroke-width="1.55"/>
<rect x="1521.48" y="293.48" width="6.82" height="6.82" stroke="#4a4a4a" stroke-width="1.55"/>
<line x1="915.1" y1="432.25" x2="1530.13" y2="438.95" stroke="#8000ff" stroke-width="2.2" stroke-dasharray="0.3 3.17" stroke-linecap="round"/>
<polygon points="915.1,427.7 919.71,431.05 917.95,436.47 912.25,436.47 910.49,431.05" stroke="#8000ff" stroke-width="1.55"/>
<polygon points="976.08,428.37 980.69,431.72 978.93,437.14 973.23,437.14 971.47,431.72" stroke="#8000ff" stroke-width="1.55"/>
<polygon points="1037.06,429.03 1041.67,432.38 1039.91,437.8 1034.21,437.8 1032.45,432.38" stroke="#8000ff" stroke-width="1.55"/>
<polygon points="1098.04,429.69 1102.65,433.04 1100.89,438.46 1095.19,438.46 1093.43,433.04" stroke="#8000ff" stroke-width="1.55"/>
<polygon points="1159.02,430.36 1163.63,433.71 1161.87,439.13 1156.17,439.13 1154.41,433.71" stroke="#8000ff" stroke-width="1.55"/>
<polygon points="1220,431.02 1224.61,434.37 1222.85,439.79 1217.15,439.79 1215.39,434.37" stroke="#8000ff" stroke-width="1.55"/>
<polygon points="1280.98,431.69 1285.59,435.04 1283.83,440.46 1278.13,440.46 1276.37,435.04" stroke="#8000ff" stroke-width="1.55"/>
<polygon points="1341.96,432.35 1346.57,435.7 1344.8,441.12 1339.11,441.12 1337.34,435.7" stroke="#8000ff" stroke-width="1.55"/>
<polygon points="1402.93,433.02 1407.55,436.37 1405.78,441.79 1400.08,441.79 1398.32,436.37" stroke="#8000ff" stroke-width="1.55"/>
<polygon points="1463.91,433.68 1468.52,437.03 1466.76,442.45 1461.06,442.45 1459.3,437.03" stroke="#8000ff" stroke-width="1.55"/>
<polygon points="1524.89,434.34 1529.5,437.69 1527.74,443.11 1522.04,443.11 1520.28,437.69" stroke="#8000ff" stroke-width="1.55"/>
<line x1="915.1" y1="487.9" x2="1530.13" y2="492.33" stroke="#951a99" stroke-width="2.2" stroke-dasharray="0.3 3.17" stroke-linecap="round"/>
<polygon points="915.1,482.91 919.05,485.4 919.05,490.4 915.1,492.89 911.15,490.4 911.15,485.4" stroke="#951a99" stroke-width="1.55"/>
<polygon points="976.08,483.35 980.03,485.84 980.03,490.84 976.08,493.33 972.13,490.84 972.13,485.84" stroke="#951a99" stroke-width="1.55"/>
<polygon points="1037.06,483.79 1041.01,486.28 1041.01,491.27 1037.06,493.77 1033.11,491.27 1033.11,486.28" stroke="#951a99" stroke-width="1.55"/>
<polygon points="1098.04,484.23 1101.99,486.72 1101.99,491.71 1098.04,494.21 1094.09,491.71 1094.09,486.72" stroke="#951a99" stroke-width="1.55"/>
<polygon points="1159.02,484.67 1162.97,487.16 1162.97,492.15 1159.02,494.65 1155.07,492.15 1155.07,487.16" stroke="#951a99" stroke-width="1.55"/>
<polygon points="1220,485.11 1223.95,487.6 1223.95,492.59 1220,495.09 1216.05,492.59 1216.05,487.6" stroke="#951a99" stroke-width="1.55"/>
<polygon points="1280.98,485.54 1284.92,488.04 1284.92,493.03 1280.98,495.53 1277.03,493.03 1277.03,488.04" stroke="#951a99" stroke-width="1.55"/>
<polygon points="1341.96,485.98 1345.9,488.48 1345.9,493.47 1341.96,495.97 1338.01,493.47 1338.01,488.48" stroke="#951a99" stroke-width="1.55"/>
<polygon points="1402.93,486.42 1406.88,488.92 1406.88,493.91 1402.93,496.41 1398.99,493.91 1398.99,488.92" stroke="#951a99" stroke-width="1.55"/>
<polygon points="1463.91,486.86 1467.86,489.36 1467.86,494.35 1463.91,496.85 1459.96,494.35 1459.96,489.36" stroke="#951a99" stroke-width="1.55"/>
<polygon points="1524.89,487.3 1528.84,489.8 1528.84,494.79 1524.89,497.29 1520.94,494.79 1520.94,489.8" stroke="#951a99" stroke-width="1.55"/>
<line x1="915.1" y1="508.75" x2="1532.3" y2="515.57" stroke="#10108a" stroke-width="2.2"/>
<polygon points="915.1,503.57 920.09,508.75 915.1,513.93 910.11,508.75" stroke="#10108a" stroke-width="1.55"/>
<polygon points="976.08,504.24 981.07,509.42 976.08,514.61 971.09,509.42" stroke="#10108a" stroke-width="1.55"/>
<polygon points="1037.06,504.91 1042.05,510.1 1037.06,515.28 1032.07,510.1" stroke="#10108a" stroke-width="1.55"/>
<polygon points="1098.04,505.59 1103.03,510.77 1098.04,515.96 1093.05,510.77" stroke="#10108a" stroke-width="1.55"/>
<polygon points="1159.02,506.26 1164.01,511.45 1159.02,516.63 1154.03,511.45" stroke="#10108a" stroke-width="1.55"/>
<polygon points="1220,506.94 1224.99,512.12 1220,517.3 1215,512.12" stroke="#10108a" stroke-width="1.55"/>
<polygon points="1280.98,507.61 1285.97,512.8 1280.98,517.98 1275.98,512.8" stroke="#10108a" stroke-width="1.55"/>
<polygon points="1341.96,508.29 1346.95,513.47 1341.96,518.65 1336.96,513.47" stroke="#10108a" stroke-width="1.55"/>
<polygon points="1402.93,508.96 1407.93,514.14 1402.93,519.33 1397.94,514.14" stroke="#10108a" stroke-width="1.55"/>
<polygon points="1463.91,509.63 1468.91,514.82 1463.91,520 1458.92,514.82" stroke="#10108a" stroke-width="1.55"/>
<polygon points="1524.89,510.31 1529.88,515.49 1524.89,520.68 1519.9,515.49" stroke="#10108a" stroke-width="1.55"/>
</g>
<text transform="translate(915.1 590.1) scale(1 1.03)" font-family="'Liberation Sans', sans-serif" font-weight="bold" font-size="22" text-anchor="middle">0</text>
<text transform="translate(1038.44 590.1) scale(1 1.03)" font-family="'Liberation Sans', sans-serif" font-weight="bold" font-size="22" text-anchor="middle">2</text>
<text transform="translate(1161.78 590.1) scale(1 1.03)" font-family="'Liberation Sans', sans-serif" font-weight="bold" font-size="22" text-anchor="middle">4</text>
<text transform="translate(1285.12 590.1) scale(1 1.03)" font-family="'Liberation Sans', sans-serif" font-weight="bold" font-size="22" text-anchor="middle">6</text>
<text transform="translate(1408.46 590.1) scale(1 1.03)" font-family="'Liberation Sans', sans-serif" font-weight="bold" font-size="22" text-anchor="middle">8</text>
<text transform="translate(1531.8 590.1) scale(1 1.03)" font-family="'Liberation Sans', sans-serif" font-weight="bold" font-size="22" text-anchor="middle">10</text>
<text transform="translate(829.7 39)" font-family="'Liberation Serif', serif" font-weight="bold" font-size="28.2">(b)</text>
<text transform="translate(873.6 120.6) scale(1 1.09)" font-family="'Liberation Sans', sans-serif" font-weight="bold" font-size="23.2">10</text><text transform="translate(899.91 113.7) scale(1 1.06)" font-family="'Liberation Sans', sans-serif" font-weight="bold" font-size="15.6">0</text>
<text transform="translate(866.2 208.3) scale(1 1.09)" font-family="'Liberation Sans', sans-serif" font-weight="bold" font-size="23.2">10</text><text transform="translate(892.51 201.4) scale(1 1.06)" font-family="'Liberation Sans', sans-serif" font-weight="bold" font-size="15.6">−1</text>
<text transform="translate(865.7 298.8) scale(1 1.09)" font-family="'Liberation Sans', sans-serif" font-weight="bold" font-size="23.2">10</text><text transform="translate(892.01 291.9) scale(1 1.06)" font-family="'Liberation Sans', sans-serif" font-weight="bold" font-size="15.6">−2</text>
<text transform="translate(866.2 390.8) scale(1 1.09)" font-family="'Liberation Sans', sans-serif" font-weight="bold" font-size="23.2">10</text><text transform="translate(892.51 383.9) scale(1 1.06)" font-family="'Liberation Sans', sans-serif" font-weight="bold" font-size="15.6">−3</text>
<text transform="translate(866.2 481.2) scale(1 1.09)" font-family="'Liberation Sans', sans-serif" font-weight="bold" font-size="23.2">10</text><text transform="translate(892.51 474.3) scale(1 1.06)" font-family="'Liberation Sans', sans-serif" font-weight="bold" font-size="15.6">−4</text>
<g transform="translate(857 550.4) rotate(-90)"><text transform="translate(0 0)" font-family="'Liberation Serif', serif" font-weight="bold" font-size="26.72">Adsorption rate (molecular site</text><text transform="translate(356.65 -17.2)" font-family="'Liberation Sans', sans-serif" font-weight="bold" font-size="16.3">−1</text><text transform="translate(377.24 0)" font-family="'Liberation Serif', serif" font-weight="bold" font-size="26.72">second</text><text transform="translate(454.64 -17.2)" font-family="'Liberation Sans', sans-serif" font-weight="bold" font-size="16.3">−1</text><text transform="translate(475.9 0)" font-family="'Liberation Serif', serif" font-weight="bold" font-size="26.72">)</text></g>
<text transform="translate(1042.2 618) scale(1 1.01)" font-family="'Liberation Serif', serif" font-weight="bold" font-size="26.57">Position along the substrate (mm)</text>
<text transform="translate(1149.4 105.25) scale(1 1.06)" font-family="'Liberation Serif', serif" font-weight="bold" font-size="26.8">SiCl</text><text transform="translate(1198.05 110.65) scale(1 1.04)" font-family="'Liberation Serif', serif" font-weight="bold" font-size="17">2</text>
<text transform="translate(1165 139.9) scale(1 1.06)" font-family="'Liberation Serif', serif" font-weight="bold" font-size="26.8">C</text><text transform="translate(1183.85 145.3) scale(1 1.04)" font-family="'Liberation Serif', serif" font-weight="bold" font-size="17">2</text><text transform="translate(1192.35 139.9) scale(1 1.06)" font-family="'Liberation Serif', serif" font-weight="bold" font-size="26.8">H</text><text transform="translate(1212.7 145.3) scale(1 1.04)" font-family="'Liberation Serif', serif" font-weight="bold" font-size="17">2</text>
<text transform="translate(1045.7 180.6) scale(1 1.06)" font-family="'Liberation Serif', serif" font-weight="bold" font-size="26.8">SiCl</text><text transform="translate(1094.35 186) scale(1 1.04)" font-family="'Liberation Serif', serif" font-weight="bold" font-size="17">3</text>
<text transform="translate(1104.3 229.5) scale(1 1.06)" font-family="'Liberation Serif', serif" font-weight="bold" font-size="26.8">SiCl</text>
<text transform="translate(1147.9 287.5) scale(1 1.06)" font-family="'Liberation Serif', serif" font-weight="bold" font-size="26.8">SiCl</text><text transform="translate(1196.55 292.9) scale(1 1.04)" font-family="'Liberation Serif', serif" font-weight="bold" font-size="17">4</text>
<text transform="translate(1148.7 427.5) scale(1 1.06)" font-family="'Liberation Serif', serif" font-weight="bold" font-size="26.8">C</text><text transform="translate(1167.55 432.9) scale(1 1.04)" font-family="'Liberation Serif', serif" font-weight="bold" font-size="17">2</text><text transform="translate(1176.05 427.5) scale(1 1.06)" font-family="'Liberation Serif', serif" font-weight="bold" font-size="26.8">H</text><text transform="translate(1196.4 432.9) scale(1 1.04)" font-family="'Liberation Serif', serif" font-weight="bold" font-size="17">4</text>
<text transform="translate(1158.2 483) scale(1 1.06)" font-family="'Liberation Serif', serif" font-weight="bold" font-size="26.8">CH</text><text transform="translate(1197.9 488.4) scale(1 1.04)" font-family="'Liberation Serif', serif" font-weight="bold" font-size="17">4</text>
<text transform="translate(1162.7 537.5) scale(1 1.06)" font-family="'Liberation Serif', serif" font-weight="bold" font-size="26.8">SiHCl</text><text transform="translate(1232.2 542.9) scale(1 1.04)" font-family="'Liberation Serif', serif" font-weight="bold" font-size="17">3</text>
</g>
</svg>
</body></html>
